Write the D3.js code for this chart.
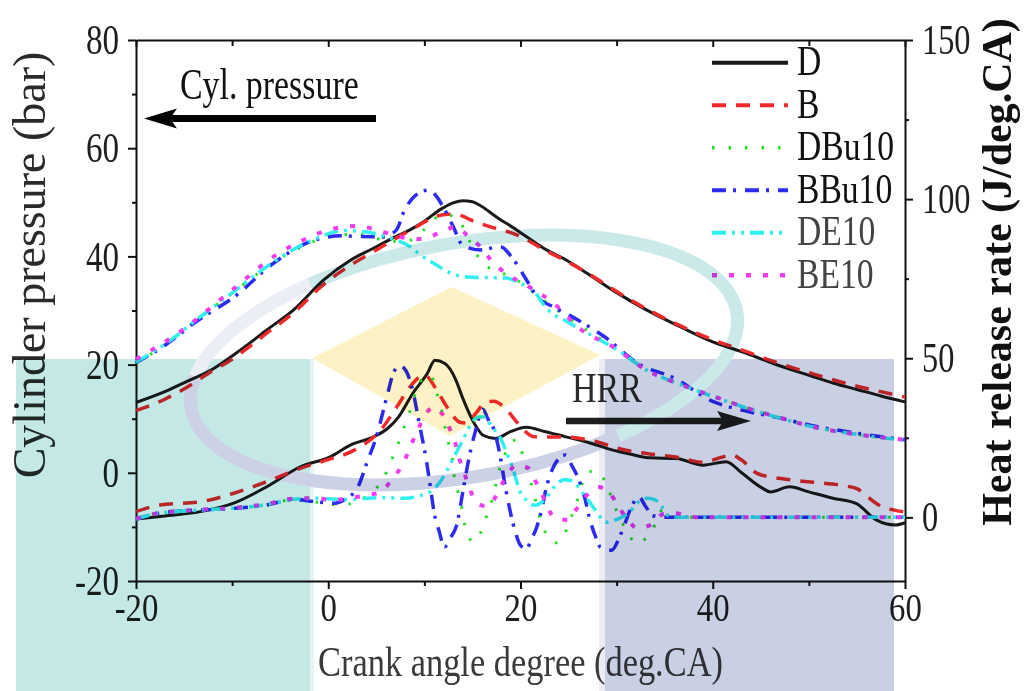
<!DOCTYPE html>
<html>
<head>
<meta charset="utf-8">
<script src="https://cdn.jsdelivr.net/npm/d3@7"></script>
<style>
  body { margin: 0; background: #fff; }
  svg { display: block; font-family: "Liberation Serif", "Times New Roman", serif; }
</style>
</head>
<body>
<div id="chart"></div>
<script>
// axis ticks
const crankTicks = [-20, 0, 20, 40, 60];
const crankMinor = [-10, 10, 30, 50];
const pressureTicks = [-20, 0, 20, 40, 60, 80];
const pressureMinor = [-10, 10, 30, 50, 70];
const hrrTicks = [0, 50, 100, 150];
const hrrMinor = [25, 75, 125];

const fuels = ["D", "B", "DBu10", "BBu10", "DE10", "BE10"];

// cylinder pressure (bar) vs crank angle (deg.CA)
const pressureD = [[-20,13],[-17,15],[-14.7,16.9],[-12,19.2],[-10,21.6],[-8,24.2],[-6.4,26.4],[-3.6,30.1],[-0.5,35.6],[2.3,39.3],[4.7,41.5],[6.5,43.2],[8.5,44.9],[10,46.5],[11.6,48.6],[13,49.9],[14,50.3],[15,50.1],[15.8,49.4],[17.5,47.3],[19.6,44.9],[22.7,41.2],[24.8,39.3],[27,36.8],[30,33.3],[33,30.2],[36.6,27],[40,24.2],[43.5,22.1],[46.3,20.2],[50.4,17.8],[52.5,16.6],[55,15.4],[57.5,14.2],[60,13.1]];
const pressureB = [[-20,11.5],[-17,13.6],[-14.7,15.8],[-12,18.9],[-10,21],[-8,23.6],[-6.4,25.8],[-3.6,29.6],[-0.5,34.8],[2.7,38.8],[5,41.2],[7.5,43.8],[9.5,45.8],[10.9,47.2],[12.5,47.8],[13.7,47.6],[15,46.6],[16.8,45.5],[19.6,44],[22.7,41],[24.8,39.1],[27,36.9],[30,33.5],[33,30.4],[36.6,27.2],[40,24.6],[43.5,22.4],[46.3,20.6],[50.4,18.3],[55,16],[57.5,15],[60,14]];
const pressureDBu10 = [[-20,20.3],[-17.2,23.4],[-13.7,28.2],[-10.2,32.9],[-6.8,37.5],[-3.3,41.3],[0,43.6],[3,44.1],[5,43.3],[7,42.8],[8.5,43],[10,45],[11.6,47.5],[12.5,47.6],[13.5,47],[14.5,43.5],[15.5,40.2],[16.5,38.2],[18,37],[20,35.2],[22,32.4],[25,28.6],[29.6,23.3],[33.1,19],[37.3,15.9],[40,14.2],[43.5,12],[47,10.2],[50.4,8.5],[55,7.1],[60,6.1]];
const pressureBBu10 = [[-20,20.4],[-17.2,23.3],[-13.7,28],[-9.5,32.9],[-6.1,38.2],[-1.9,42.7],[1.3,43.8],[3,43.7],[5.7,43.6],[7.1,44.9],[7.8,48],[9.5,51.8],[10.6,52.3],[11.3,51],[12,49],[13,45.5],[14,42],[15.8,41.2],[17.9,41.8],[19.2,39.6],[20.5,36],[21.7,32.6],[23.5,30.6],[25.2,29],[28.7,25.2],[32.3,20.1],[35.9,17.6],[40,13.2],[43.5,11.4],[47,10.1],[50.4,8.7],[54,7.6],[57,6.8],[60,6.1]];
const pressureDE10 = [[-20,20.5],[-17.2,23.5],[-13.7,28.3],[-10.2,33],[-6.8,37.6],[-3.3,41.6],[-1,43.5],[1.6,44.8],[4,44.5],[6.1,43.6],[8.5,41.8],[9.5,40.4],[11,38.7],[12.9,36.8],[14.4,36.2],[16.1,36.1],[18.5,36],[20,35],[21.3,33.8],[22.7,30.4],[25,27.8],[27.6,25.2],[30,22.8],[33.1,19],[37.3,15.9],[40,14.1],[43.5,12],[47,10.1],[50.4,8.5],[55,7.1],[60,6]];
const pressureBE10 = [[-20,21],[-15.4,26.1],[-10.2,33.5],[-5.4,40.3],[-2,43.5],[0.2,45],[3,45.6],[5.4,44.7],[7.5,43.6],[9.5,43.2],[11.9,44.6],[13.3,45.5],[14.4,44],[15.8,41.8],[16.8,39.6],[18.2,37.2],[20.6,34.7],[23.4,31.4],[26.2,26.6],[29.6,23.3],[33.1,19],[37.3,15.9],[40,14.2],[43.5,12],[47,10.2],[50.4,8.5],[55,7.1],[60,6.1]];

// heat release rate (J/deg.CA) vs crank angle (deg.CA)
const hrrD = [[-20,-0.5],[-17.5,0.3],[-13.3,1.8],[-9.9,4.4],[-6.4,9.6],[-2.9,15.9],[0.2,19],[2.3,22.7],[4.7,25.3],[6.2,28],[7.3,31.5],[8.8,39],[10.3,45.2],[11.1,49.4],[12.1,48.4],[13.2,43.7],[14,37.4],[14.9,31.2],[15.5,28],[16.1,25.8],[17.4,24.8],[19,27],[20.6,28.3],[22.5,27],[24.7,25.3],[27,23.6],[29.5,21.2],[31.5,19.8],[33.5,18.7],[36.2,18.5],[39,16.4],[41.4,17.5],[43,14],[45.2,9.1],[46,8],[48,9.6],[50,8],[52.5,6],[54.9,4.4],[57,-0.8],[59,-2.4],[60,-1.7]];
const hrrB = [[-20,1.8],[-17.5,3.9],[-13.3,4.9],[-9.9,7.5],[-6.4,11.2],[-2.9,15.4],[-0.2,18],[2.5,20.8],[5.5,27.6],[7.3,35.5],[8.5,41],[10,44.7],[11.4,39.4],[12.5,34],[13.7,29.9],[14.5,29.6],[15.3,32.5],[16.5,36.3],[17.2,36.5],[18.6,33.7],[19.6,30],[21.5,25.3],[25,25.2],[27.7,23.9],[30.5,21.4],[33.3,20],[36.3,18.9],[39,17.3],[40.5,18.5],[42,19.6],[43,18],[44.7,13.7],[47.6,12],[50.5,11],[53.5,10],[55,9],[56,6.7],[57.5,3.5],[59,2.2],[60,1.7]];
const hrrDBu10 = [[-20,-0.6],[-17.6,1.3],[-13.3,2.3],[-9.9,2.8],[-6.4,3.9],[-3.6,5.6],[-1.5,4.9],[0.5,4],[1.5,4],[3.3,5.4],[5.1,9.5],[6.1,14.5],[6.8,19.6],[7.5,24.9],[8.1,30],[8.7,35.2],[9.2,40.5],[10,44],[10.6,44.8],[11.3,39],[11.8,33.7],[12.1,29],[12.5,23.6],[12.9,18.6],[13.1,12.9],[13.5,8],[13.9,2.9],[14.2,-2.4],[15.1,-7.7],[16.1,-3],[16.6,1.7],[17.2,7],[17.6,12.6],[18.4,20],[19.2,24],[19.6,24.3],[20.3,19],[20.8,14],[21.3,8.5],[22.2,-1.8],[23.1,-7.1],[23.7,-8],[24.3,-7.1],[25,-2],[25.7,3.3],[27,14.3],[27.8,14.5],[28.6,12.3],[30.1,1.3],[31,-4],[32.1,-8.2],[33.7,-4],[34.8,2.3],[35.5,0.5],[37,0],[40,0],[45,0],[50,0],[55,0],[60,0]];
const hrrBBu10 = [[-20,-0.6],[-17.6,1.3],[-13.3,2.3],[-9.9,2.8],[-6.4,3.9],[-3.6,5.6],[-1.5,5],[0.5,4.4],[1.9,6],[3.1,9.6],[4,17],[5,25.3],[6.1,37.9],[6.8,45.5],[7.4,47.7],[8.1,46],[8.7,41],[9.5,29],[10.2,18],[10.7,8],[11,1.7],[11.5,-4],[12.1,-9.3],[12.7,-6.5],[13.4,-2],[14,8],[14.6,18],[15.3,27],[16.1,34],[16.6,31],[17.3,27],[17.9,19],[18.4,10],[18.9,2.3],[19.5,-5],[20,-8.8],[20.6,-9.8],[21.2,-6.5],[21.7,-3],[22.2,2.5],[22.7,9.5],[23.3,15],[24.1,18.8],[24.7,19.6],[25.3,16.5],[26,12.3],[26.7,6],[27.2,-0.5],[27.8,-6],[28.3,-9.3],[29.5,-10.3],[30.3,-6.2],[30.8,-2.5],[31.5,3],[32.3,6.5],[33,3.5],[33.8,0.5],[35,0],[40,0],[45,0],[50,0],[55,0],[60,0]];
const hrrDE10 = [[-20,-0.5],[-17.6,1.3],[-13.3,2.3],[-9.9,2.9],[-6.4,4],[-3.6,5.7],[-1,6],[2,5.6],[4,6],[6,6.2],[8,6],[9.5,6.8],[10.6,8],[11.6,11],[13,18.5],[14,24.3],[14.8,29],[15.6,31.5],[16.3,31.5],[17,28.5],[17.9,25],[18.6,20],[19.2,15.4],[19.9,8.5],[20.6,5.4],[21.5,3.8],[22.5,5.5],[23.5,9.5],[24.5,11.8],[25.3,11.5],[26.5,7.6],[27.5,3.5],[28.3,0],[28.9,-1.5],[29.7,-1],[30.5,0],[31.3,1.5],[32.1,4.4],[33.2,6],[34,5.5],[34.8,3],[35.5,0.2],[37,0],[40,0],[45,0],[50,0],[55,0],[60,0]];
const hrrBE10 = [[-20,-0.4],[-17.6,1.4],[-13.3,2.4],[-9.9,3],[-6.4,4.2],[-3.6,5.9],[-1,6],[0.2,5.4],[2.8,6.3],[4.1,7],[5.4,8],[6.6,11.7],[7.5,15.5],[8.2,19.6],[8.7,23.3],[9.3,27.4],[9.9,31.2],[10.5,33.8],[11.1,34.6],[11.7,33],[12.1,31.5],[12.7,27.4],[13.2,23.6],[13.5,19.6],[14,15.5],[14.4,11.7],[14.9,7.6],[15.8,3.9],[16.5,3.5],[17.2,5.4],[17.9,9.5],[18.6,13.3],[19.6,16.4],[20.8,15.5],[21.5,11.7],[22.2,7.6],[22.7,3.9],[23.6,-0.2],[24.9,-0.8],[25.9,2.9],[26.9,7],[28.1,9.5],[29.3,7.6],[30.1,3.9],[31,-0.2],[32.2,-3.4],[33.5,-2.4],[34.8,1],[36,1.3],[38.5,0],[45,0],[50,0],[55,0],[60,0]];

const pressureSeries = [pressureD, pressureB, pressureDBu10, pressureBBu10, pressureDE10, pressureBE10];
const hrrSeries = [hrrD, hrrB, hrrDBu10, hrrBBu10, hrrDE10, hrrBE10];

const layout = {
  width: 1027,
  height: 691,
  left: 136,
  right: 905,
  top: 40,
  bottom: 581
};

const lineStyles = [
  { color: "#1a1a1a", dash: null, width: 3 },
  { color: "#f02a2a", dash: "14,10", width: 3.5 },
  { color: "#22e022", dash: "2.5,14", width: 3 },
  { color: "#2b2bf2", dash: "14,7,3,9", width: 3.5 },
  { color: "#2ef0f0", dash: "14,6,3,6,3,6", width: 3.5 },
  { color: "#f23cf2", dash: "5,12", width: 4 }
];
const labelColors = ["#111", "#111", "#111", "#111", "#444", "#444"];

const svg = d3.select("#chart").append("svg")
  .attr("width", layout.width)
  .attr("height", layout.height)
  .attr("viewBox", [0, 0, layout.width, layout.height].join(" "));

const xScale = d3.scaleLinear().domain([-20, 60]).range([layout.left, layout.right]);
const yPressure = d3.scaleLinear().domain([-20, 80]).range([layout.bottom, layout.top]);
const yHrr = d3.scaleLinear().domain([-20, 150]).range([layout.bottom, layout.top]);

const axisInk = "#111";

function styleAxis(g) {
  g.attr("font-family", null).attr("font-size", null);
  g.selectAll(".domain").attr("stroke", axisInk).attr("stroke-width", 2);
  g.selectAll(".tick line").attr("stroke", axisInk).attr("stroke-width", 2);
}

// minor ticks, no labels
function minorAxis(axis, values, size, at) {
  let g = svg.append("g")
    .attr("transform", at)
    .call(axis.tickValues(values).tickSize(size).tickFormat(""));
  g.select(".domain").remove();
  styleAxis(g);
}

// bottom axis
let xAxis = svg.append("g")
  .attr("transform", `translate(0,${layout.bottom})`)
  .call(d3.axisBottom(xScale).tickValues(crankTicks).tickSizeInner(8).tickSizeOuter(0)
    .tickPadding(3).tickFormat(d => String(d)));
styleAxis(xAxis);
xAxis.selectAll(".tick text")
  .attr("font-size", 41)
  .attr("fill", "#1e1e1e")
  .attr("transform", "scale(0.8,1)");
minorAxis(d3.axisBottom(xScale), crankMinor, 5, `translate(0,${layout.bottom})`);

// top frame with inward ticks
let topAxis = svg.append("g")
  .attr("transform", `translate(0,${layout.top})`)
  .call(d3.axisTop(xScale).tickValues(crankTicks).tickSizeInner(-7).tickSizeOuter(0).tickFormat(""));
styleAxis(topAxis);
minorAxis(d3.axisTop(xScale), crankMinor, -6, `translate(0,${layout.top})`);

// left axis: pressure
let yAxisLeft = svg.append("g")
  .attr("transform", `translate(${layout.left},0)`)
  .call(d3.axisLeft(yPressure).tickValues(pressureTicks).tickSizeInner(8).tickSizeOuter(0)
    .tickFormat(d => String(d)));
styleAxis(yAxisLeft);
yAxisLeft.selectAll(".tick text")
  .attr("font-size", 43)
  .attr("fill", "#1e1e1e")
  .attr("x", -17 / 0.77)
  .attr("transform", "scale(0.77,1)");
minorAxis(d3.axisLeft(yPressure), pressureMinor, 4, `translate(${layout.left},0)`);

// right axis: heat release rate
let yAxisRight = svg.append("g")
  .attr("transform", `translate(${layout.right},0)`)
  .call(d3.axisRight(yHrr).tickValues(hrrTicks).tickSizeInner(8).tickSizeOuter(0)
    .tickFormat(d => String(d)));
styleAxis(yAxisRight);
yAxisRight.selectAll(".tick text")
  .attr("font-size", 42)
  .attr("fill", "#1e1e1e")
  .attr("x", 17 / 0.77)
  .attr("transform", "scale(0.77,1)");
minorAxis(d3.axisRight(yHrr), hrrMinor, 4, `translate(${layout.right},0)`);

// axis titles
svg.append("text")
  .attr("transform", `translate(45,265) rotate(-90)`)
  .attr("text-anchor", "middle")
  .attr("font-size", 46)
  .attr("fill", "#2a2a2a")
  .text("Cylinder pressure (bar)");

svg.append("text")
  .attr("transform", `translate(1011,272) rotate(-90)`)
  .attr("text-anchor", "middle")
  .attr("font-size", 42)
  .attr("font-weight", "bold")
  .attr("fill", "#111")
  .text("Heat release rate (J/deg.CA)");

svg.append("text")
  .attr("transform", `translate(${(layout.left + layout.right) / 2},676) scale(0.8,1)`)
  .attr("text-anchor", "middle")
  .attr("font-size", 43)
  .attr("fill", "#3a3a3a")
  .text("Crank angle degree (deg.CA)");

// curves
const pressureLine = d3.line()
  .x(d => xScale(d[0]))
  .y(d => yPressure(d[1]))
  .curve(d3.curveMonotoneX);
const hrrLine = d3.line()
  .x(d => xScale(d[0]))
  .y(d => yHrr(d[1]))
  .curve(d3.curveMonotoneX);

let curves = svg.append("g").attr("fill", "none");
fuels.forEach((name, i) => {
  let s = lineStyles[i];
  [[pressureSeries[i], pressureLine], [hrrSeries[i], hrrLine]].forEach(([data, line]) => {
    curves.append("path")
      .datum(data)
      .attr("class", "curve-" + name)
      .attr("stroke", s.color)
      .attr("stroke-width", s.width)
      .attr("stroke-dasharray", s.dash)
      .attr("stroke-linejoin", "round")
      .attr("d", line);
  });
});

// legend
let legend = svg.append("g");
fuels.forEach((name, i) => {
  let s = lineStyles[i];
  let y = 62.7 + 42.5 * i;
  legend.append("line")
    .attr("x1", 712).attr("x2", 788)
    .attr("y1", y).attr("y2", y)
    .attr("stroke", s.color)
    .attr("stroke-width", s.width + (i === 0 ? 1 : 0.5))
    .attr("stroke-dasharray", s.dash);
  legend.append("text")
    .attr("transform", `translate(797,${y + 12.5}) scale(0.8,1)`)
    .attr("font-size", 42)
    .attr("fill", labelColors[i])
    .text(name);
});

// annotations
svg.append("text")
  .attr("transform", "translate(180,99) scale(0.77,1)")
  .attr("font-size", 44)
  .attr("fill", "#111")
  .text("Cyl. pressure");
svg.append("line")
  .attr("x1", 376).attr("x2", 166).attr("y1", 118.5).attr("y2", 118.5)
  .attr("stroke", "#000").attr("stroke-width", 7);
svg.append("path")
  .attr("d", "M144,118.5 L177,108.5 L170,118.5 L177,128.5 Z")
  .attr("fill", "#000");

svg.append("text")
  .attr("transform", "translate(572,402) scale(0.81,1)")
  .attr("font-size", 42)
  .attr("fill", "#2a2a2a")
  .text("HRR");
svg.append("line")
  .attr("x1", 566).attr("x2", 726).attr("y1", 421).attr("y2", 421)
  .attr("stroke", "#1e1e1e").attr("stroke-width", 6.5);
svg.append("path")
  .attr("d", "M751,421 L717,411 L723,421 L717,431 Z")
  .attr("fill", "#1e1e1e");

// background logo tint, multiplied over the figure
let tint = svg.append("g").style("mix-blend-mode", "multiply");
tint.append("rect")
  .attr("x", 16).attr("y", 359).attr("width", 294).attr("height", 332)
  .attr("fill", "#c4e8e6");
tint.append("rect")
  .attr("x", 310).attr("y", 359).attr("width", 4).attr("height", 332)
  .attr("fill", "#e6f5f4");
tint.append("rect")
  .attr("x", 599).attr("y", 359).attr("width", 6).attr("height", 332)
  .attr("fill", "#ebedf4");
tint.append("rect")
  .attr("x", 605).attr("y", 359).attr("width", 289).attr("height", 332)
  .attr("fill", "#c9d0e3");
tint.append("path")
  .attr("d", "M312,358 L452,287 L600,355 L450,436 Z")
  .attr("fill", "#fcf2c6");

const ring = { rx: 277, ry: 117 };
function ringPoint(deg) {
  let a = deg * Math.PI / 180;
  return [ring.rx * Math.cos(a), ring.ry * Math.sin(a)];
}
function ringArc(a1, a2) {
  let p1 = ringPoint(a1), p2 = ringPoint(a2);
  let large = (a2 - a1) > 180 ? 1 : 0;
  return `M${p1[0]},${p1[1]} A${ring.rx},${ring.ry} 0 ${large} 1 ${p2[0]},${p2[1]}`;
}
let ringG = tint.append("g")
  .attr("transform", "translate(464,360) rotate(-10)")
  .attr("fill", "none")
  .attr("stroke-width", 13);
ringG.append("path").attr("d", ringArc(240, 420)).attr("stroke", "#cbe9e9");
ringG.append("path").attr("d", ringArc(60, 195)).attr("stroke", "#cdd1e6");
// upper-left part of the ring fades out
ringG.append("path").attr("d", ringArc(195, 240)).attr("stroke", "#eceef6");
</script>
</body>
</html>
